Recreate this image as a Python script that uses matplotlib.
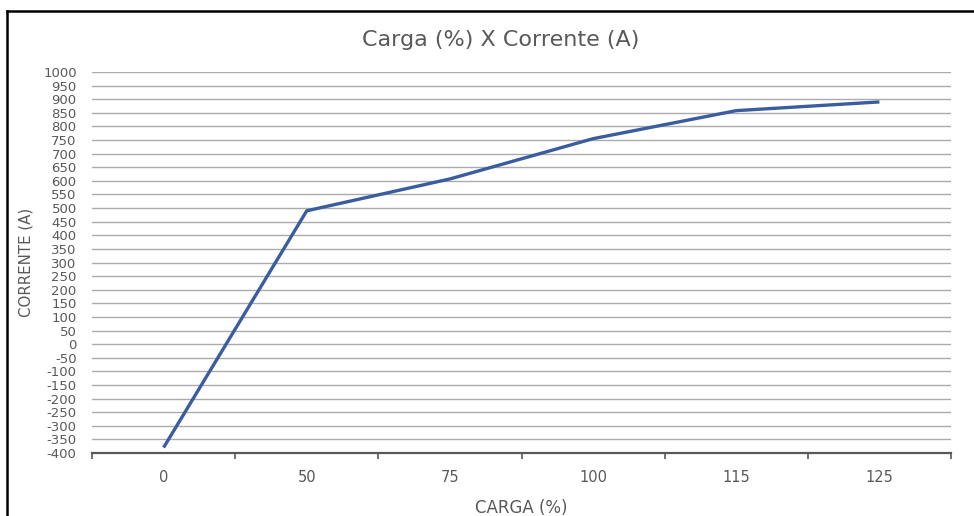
import matplotlib
matplotlib.use("Agg")
import matplotlib.pyplot as plt
from matplotlib.lines import Line2D

categories = ["0", "50", "75", "100", "115", "125"]
corrente = [-380, 490, 607, 755, 858, 890]
y_ticks = list(range(-400, 1001, 50))

narrow = ["Liberation Sans Narrow", "DejaVu Sans"]
text_gray = "#595959"

fig = plt.figure(figsize=(9.74, 5.16), dpi=100)
ax = fig.add_axes([92 / 974, 1 - 453 / 516, (951 - 92) / 974, (453 - 72) / 516])

x = list(range(len(categories)))
ax.plot(x, corrente, color="#3A5DA0", lw=2.4, solid_capstyle="butt", zorder=3)

ax.set_xlim(-0.5, len(categories) - 0.5)
ax.set_ylim(-400, 1000)
ax.set_yticks(y_ticks)
ax.set_yticklabels([str(v) for v in y_ticks], fontsize=9.5, color=text_gray,
                   family="DejaVu Sans")
ax.yaxis.grid(True, color="#ABABAB", lw=1.0)
ax.set_axisbelow(True)
ax.tick_params(axis="y", length=0, pad=11)

# category labels centred, tick marks on the category boundaries
ax.set_xticks(x)
ax.set_xticklabels(categories, fontsize=10.5, color=text_gray, family=narrow)
ax.tick_params(axis="x", which="major", length=0, pad=12)
ax.set_xticks([i - 0.5 for i in range(len(categories) + 1)], minor=True)
ax.tick_params(axis="x", which="minor", length=4, width=1.2, color="#595959")

for side in ("top", "right", "left"):
    ax.spines[side].set_visible(False)
ax.spines["bottom"].set_color("#595959")
ax.spines["bottom"].set_linewidth(1.6)

ax.set_xlabel("CARGA (%)", fontsize=12, color=text_gray, family=narrow, labelpad=10)
ax.set_ylabel("CORRENTE (A)", fontsize=10.8, color=text_gray, family="DejaVu Sans")
ax.yaxis.set_label_coords(-0.068, 0.5)

fig.text(0.514, 1 - 40 / 516, "Carga (%) X Corrente (A)", ha="center", va="center",
         fontsize=16, color=text_gray, family=narrow)

# chart frame: top and left edges
fig.add_artist(Line2D([7 / 974, 1.0], [1 - 10.5 / 516, 1 - 10.5 / 516],
                      transform=fig.transFigure, color="black", lw=1.8))
fig.add_artist(Line2D([7 / 974, 7 / 974], [0, 1 - 10.5 / 516],
                      transform=fig.transFigure, color="black", lw=1.8))

fig.savefig("out.png", dpi=100)
